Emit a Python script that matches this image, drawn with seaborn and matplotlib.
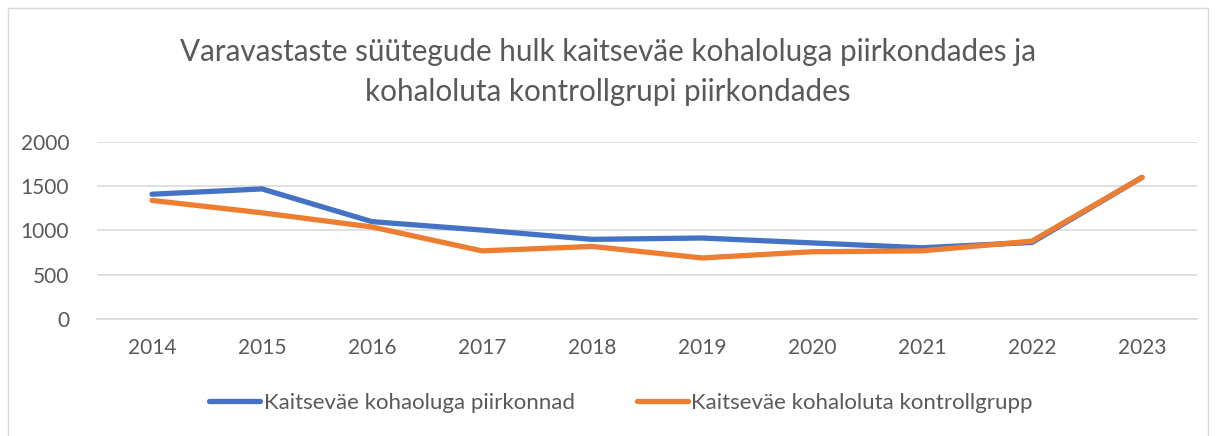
import matplotlib
matplotlib.use("Agg")
import matplotlib.pyplot as plt
import seaborn as sns
import pandas as pd
from matplotlib.patches import Rectangle
from matplotlib.lines import Line2D

years = ["2014", "2015", "2016", "2017", "2018", "2019", "2020", "2021", "2022", "2023"]
kohaloluga = [1410, 1470, 1100, 1005, 900, 915, 860, 805, 865, 1600]
kohaloluta = [1340, 1200, 1040, 770, 820, 690, 760, 770, 880, 1600]
series_names = ["Kaitseväe kohaoluga piirkonnad", "Kaitseväe kohaloluta kontrollgrupp"]
title = "Varavastaste süütegude hulk kaitseväe kohaloluga piirkondades ja\nkohaloluta kontrollgrupi piirkondades"

df = pd.DataFrame({
    "Aasta": years * 2,
    "Väärtus": kohaloluga + kohaloluta,
    "Seeria": [series_names[0]] * len(years) + [series_names[1]] * len(years),
})

sns.set_theme(style="white")
plt.rcParams["font.family"] = ["Lato", "DejaVu Sans"]

W, H = 1216, 436
fig = plt.figure(figsize=(W / 100, H / 100), dpi=100)
ax = fig.add_axes([97 / W, 1 - 319 / H, (1197 - 97) / W, (319 - 142) / H])

sns.lineplot(data=df, x="Aasta", y="Väärtus", hue="Seeria",
             palette=["#4472C4", "#ED7D31"], linewidth=3.8, ax=ax,
             legend=False, sort=False)
for ln in ax.lines:
    ln.set_solid_capstyle("round")
    ln.set_solid_joinstyle("round")

ax.set_xlim(-0.5, len(years) - 0.5)
ax.set_ylim(0, 2000)
ax.set_yticks([0, 500, 1000, 1500, 2000])
ax.yaxis.grid(True, color="#D9D9D9", linewidth=1.2)
ax.set_axisbelow(True)
for s in ["top", "right", "left"]:
    ax.spines[s].set_visible(False)
ax.spines["bottom"].set_color("#D9D9D9")
ax.spines["bottom"].set_linewidth(1.2)
ax.set_xlabel("")
ax.set_ylabel("")
ax.tick_params(axis="both", length=0, labelsize=15, labelcolor="#595959")
ax.tick_params(axis="x", pad=14)
ax.tick_params(axis="y", pad=20)

fig.text(0.5, 1 - 72 / H, title, ha="center", va="center", fontsize=21.3,
         color="#595959", linespacing=1.55)

handles = [Line2D([], [], color=c, linewidth=3.8, solid_capstyle="round")
           for c in ["#4472C4", "#ED7D31"]]
leg = fig.legend(handles, series_names, loc="center", bbox_to_anchor=(621 / W, 1 - 403 / H),
                 ncol=2, frameon=False, fontsize=16, handlelength=2.3,
                 handletextpad=0.15, columnspacing=2.8)
for t in leg.get_texts():
    t.set_color("#595959")

fig.patches.append(Rectangle((8 / W, -0.05), (1208 - 8) / W, 1 - 8 / H + 0.05,
                             transform=fig.transFigure, fill=False,
                             edgecolor="#D9D9D9", linewidth=1.0))

fig.savefig("out.png", dpi=100)
